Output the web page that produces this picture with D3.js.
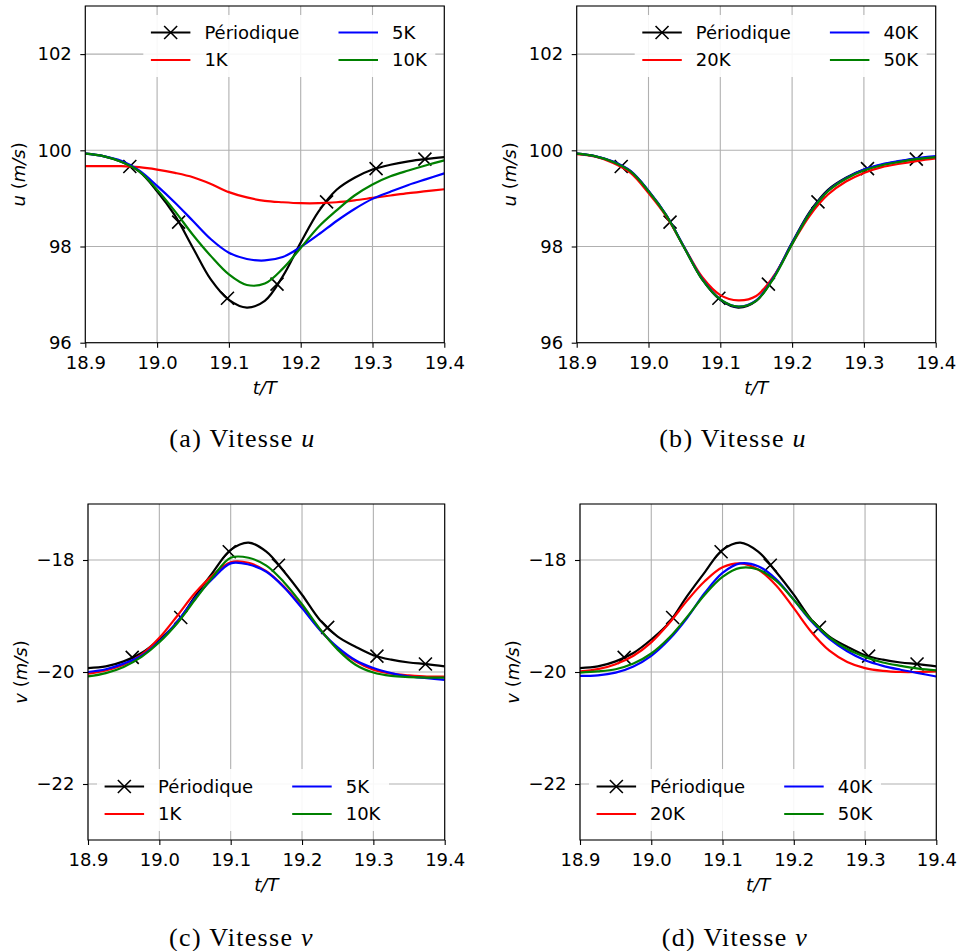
<!DOCTYPE html>
<html><head><meta charset="utf-8">
<script src="https://cdn.jsdelivr.net/npm/d3@7"></script>
<style>body{margin:0;background:#fff} svg{display:block}</style>
</head><body><svg id="chart" width="960" height="951"></svg>
<script>
// ---------- data ----------
const tGrid = [18.9, 18.925, 18.95, 18.975, 19.0, 19.025, 19.05, 19.075, 19.1, 19.125, 19.15,
               19.175, 19.2, 19.225, 19.25, 19.275, 19.3, 19.325, 19.35, 19.375, 19.4];
const markerTimes = [18.962, 19.030, 19.098, 19.167, 19.236, 19.305, 19.373];
const xTicks = [18.9, 19.0, 19.1, 19.2, 19.3, 19.4];
const uTicks = [96, 98, 100, 102];
const vTicks = [-22, -20, -18];

const uPeriodique = [99.93, 99.88, 99.76, 99.56, 99.15, 98.64, 97.97, 97.31, 96.89, 96.73, 96.87, 97.38, 98.08, 98.73, 99.18, 99.43, 99.60, 99.70, 99.77, 99.82, 99.86];
const u1K  = [99.67, 99.67, 99.67, 99.65, 99.60, 99.53, 99.44, 99.30, 99.13, 99.02, 98.95, 98.92, 98.90, 98.90, 98.92, 98.96, 99.01, 99.06, 99.11, 99.15, 99.19];
const u5K  = [99.93, 99.88, 99.78, 99.58, 99.26, 98.91, 98.53, 98.15, 97.87, 97.74, 97.71, 97.78, 97.99, 98.25, 98.53, 98.78, 98.99, 99.14, 99.28, 99.40, 99.52];
const u10K = [99.93, 99.88, 99.76, 99.56, 99.18, 98.73, 98.24, 97.80, 97.42, 97.20, 97.23, 97.54, 97.97, 98.41, 98.75, 99.06, 99.29, 99.46, 99.58, 99.69, 99.79];
const u20K = [99.92, 99.87, 99.74, 99.53, 99.11, 98.62, 97.98, 97.36, 96.99, 96.88, 96.97, 97.40, 98.05, 98.65, 99.08, 99.35, 99.53, 99.65, 99.72, 99.78, 99.83];
const u40K = [99.93, 99.88, 99.77, 99.57, 99.16, 98.65, 97.98, 97.32, 96.90, 96.75, 96.88, 97.38, 98.07, 98.71, 99.16, 99.42, 99.60, 99.71, 99.78, 99.84, 99.88];
const u50K = [99.93, 99.88, 99.76, 99.56, 99.15, 98.64, 97.97, 97.31, 96.90, 96.75, 96.87, 97.36, 98.05, 98.70, 99.15, 99.41, 99.58, 99.69, 99.76, 99.82, 99.86];

const vPeriodique = [-19.93, -19.90, -19.81, -19.66, -19.42, -19.12, -18.65, -18.22, -17.82, -17.69, -17.85, -18.21, -18.62, -19.07, -19.37, -19.55, -19.70, -19.78, -19.83, -19.86, -19.90];
const v1K  = [-20.03, -19.97, -19.87, -19.69, -19.39, -19.00, -18.59, -18.27, -18.04, -18.05, -18.20, -18.48, -18.84, -19.24, -19.58, -19.81, -19.96, -20.03, -20.06, -20.08, -20.08];
const v5K  = [-20.00, -19.95, -19.85, -19.71, -19.45, -19.10, -18.68, -18.33, -18.06, -18.08, -18.21, -18.49, -18.86, -19.25, -19.56, -19.79, -19.93, -20.02, -20.08, -20.11, -20.14];
const v10K = [-20.08, -20.02, -19.91, -19.73, -19.47, -19.13, -18.71, -18.30, -17.96, -17.96, -18.10, -18.40, -18.79, -19.23, -19.60, -19.87, -20.01, -20.07, -20.09, -20.10, -20.10];
const v20K = [-19.99, -19.95, -19.86, -19.71, -19.47, -19.13, -18.73, -18.38, -18.13, -18.06, -18.17, -18.45, -18.86, -19.29, -19.62, -19.82, -19.93, -19.98, -20.00, -20.00, -19.99];
const v40K = [-20.07, -20.06, -20.01, -19.90, -19.71, -19.42, -19.04, -18.59, -18.23, -18.06, -18.11, -18.34, -18.71, -19.10, -19.41, -19.63, -19.79, -19.89, -19.96, -20.02, -20.08];
const v50K = [-20.01, -19.99, -19.95, -19.85, -19.67, -19.39, -19.02, -18.62, -18.30, -18.14, -18.17, -18.37, -18.71, -19.08, -19.38, -19.59, -19.73, -19.83, -19.89, -19.94, -19.97];

// ---------- drawing ----------
const svg = d3.select("#chart");
const FONT = "DejaVu Sans";
const FS = 18;

const panels = [
  {id:"a", left:85.3, right:444.3, top:6, bottom:342.7, yDomain:[96,103], yTicks:uTicks, yVar:"u",
   legend:"ur", cap:"(a) Vitesse ", capVar:"u", capX:242.5, capY:446.5,
   series:[{name:"Périodique", color:"#000000", values:uPeriodique, markers:true},
           {name:"1K", color:"#ff0000", values:u1K},
           {name:"5K", color:"#0000ff", values:u5K},
           {name:"10K", color:"#008000", values:u10K}]},
  {id:"b", left:576.7, right:935.7, top:6, bottom:342.7, yDomain:[96,103], yTicks:uTicks, yVar:"u",
   legend:"ur", cap:"(b) Vitesse ", capVar:"u", capX:733, capY:446.5,
   series:[{name:"Périodique", color:"#000000", values:uPeriodique, markers:true},
           {name:"20K", color:"#ff0000", values:u20K},
           {name:"40K", color:"#0000ff", values:u40K},
           {name:"50K", color:"#008000", values:u50K}]},
  {id:"c", left:88, right:444.7, top:504, bottom:840, yDomain:[-23,-17], yTicks:vTicks, yVar:"v",
   legend:"ll", cap:"(c) Vitesse ", capVar:"v", capX:241.5, capY:946,
   series:[{name:"Périodique", color:"#000000", values:vPeriodique, markers:true},
           {name:"1K", color:"#ff0000", values:v1K},
           {name:"5K", color:"#0000ff", values:v5K},
           {name:"10K", color:"#008000", values:v10K}]},
  {id:"d", left:580, right:936.3, top:504, bottom:840, yDomain:[-23,-17], yTicks:vTicks, yVar:"v",
   legend:"ll", cap:"(d) Vitesse ", capVar:"v", capX:735, capY:946,
   series:[{name:"Périodique", color:"#000000", values:vPeriodique, markers:true},
           {name:"20K", color:"#ff0000", values:v20K},
           {name:"40K", color:"#0000ff", values:v40K},
           {name:"50K", color:"#008000", values:v50K}]}
];

function xMark(g, cx, cy, r, color) {
  g.append("path")
    .attr("d", `M${cx-r},${cy-r}L${cx+r},${cy+r}M${cx-r},${cy+r}L${cx+r},${cy-r}`)
    .attr("stroke", color).attr("stroke-width", 1.6).attr("fill", "none");
}

panels.forEach(p => {
  const x = d3.scaleLinear().domain([18.9, 19.4]).range([p.left, p.right]);
  const y = d3.scaleLinear().domain(p.yDomain).range([p.bottom, p.top]);
  const g = svg.append("g").attr("id", "panel-" + p.id);

  g.append("clipPath").attr("id", "clip-" + p.id)
    .append("rect").attr("x", p.left).attr("y", p.top)
    .attr("width", p.right - p.left).attr("height", p.bottom - p.top);

  // grid
  const grid = g.append("g").attr("stroke", "#b0b0b0").attr("stroke-width", 1.1);
  xTicks.forEach(t => grid.append("line").attr("x1", x(t)).attr("x2", x(t)).attr("y1", p.top).attr("y2", p.bottom));
  p.yTicks.forEach(v => grid.append("line").attr("x1", p.left).attr("x2", p.right).attr("y1", y(v)).attr("y2", y(v)));

  // curves
  const line = d3.line().x((d, i) => x(tGrid[i])).y(d => y(d)).curve(d3.curveCatmullRom.alpha(0.5));
  const plot = g.append("g").attr("clip-path", `url(#clip-${p.id})`);
  p.series.forEach(s => {
    plot.append("path").datum(s.values).attr("d", line)
      .attr("fill", "none").attr("stroke", s.color).attr("stroke-width", 2.2)
      .attr("stroke-linejoin", "round");
    if (s.markers) {
      const interp = d3.scaleLinear().domain(tGrid).range(s.values);
      markerTimes.forEach(t => xMark(plot, x(t), y(interp(t)), 6.5, s.color));
    }
  });

  // legend
  const LW = 292, LH = 62, gap = 9;
  const lx = p.legend === "ur" ? p.right - gap - LW : p.left + gap;
  const ly = p.legend === "ur" ? p.top + gap : p.bottom - gap - LH;
  const leg = g.append("g");
  leg.append("rect").attr("x", lx).attr("y", ly).attr("width", LW).attr("height", LH)
    .attr("rx", 3).attr("fill", "#ffffff").attr("fill-opacity", 0.9);
  p.series.forEach((s, i) => {
    const col = Math.floor(i / 2), row = i % 2;
    const x0 = lx + 7.6 + col * 187.6;
    const yy = ly + 17.5 + row * 27.5;
    leg.append("line").attr("x1", x0).attr("x2", x0 + 39.5).attr("y1", yy).attr("y2", yy)
      .attr("stroke", s.color).attr("stroke-width", 2.2);
    if (s.markers) xMark(leg, x0 + 19.75, yy, 6.5, s.color);
    leg.append("text").attr("x", x0 + 53.5).attr("y", yy).attr("dy", "0.35em")
      .attr("font-family", FONT).attr("font-size", FS).attr("fill", "#000").text(s.name);
  });

  // spines
  g.append("rect").attr("x", p.left).attr("y", p.top)
    .attr("width", p.right - p.left).attr("height", p.bottom - p.top)
    .attr("fill", "none").attr("stroke", "#000").attr("stroke-width", 1.1);

  // axes
  const ax = g.append("g").attr("transform", `translate(0,${p.bottom})`)
    .call(d3.axisBottom(x).tickValues(xTicks).tickFormat(d3.format(".1f")).tickSize(5).tickPadding(8.5).tickSizeOuter(0));
  const ay = g.append("g").attr("transform", `translate(${p.left},0)`)
    .call(d3.axisLeft(y).tickValues(p.yTicks).tickFormat(d3.format("d")).tickSize(5).tickPadding(8.5).tickSizeOuter(0));
  [ax, ay].forEach(a => {
    a.select(".domain").remove();
    a.selectAll(".tick line").attr("stroke", "#000").attr("stroke-width", 1.1);
    a.selectAll(".tick text").attr("font-family", FONT).attr("font-size", FS).attr("fill", "#000");
  });

  // axis labels
  const xl = g.append("text").attr("x", (p.left + p.right) / 2).attr("y", p.bottom + 44.5).attr("dy", "0.35em")
    .attr("text-anchor", "middle").attr("font-family", FONT).attr("font-size", FS).attr("fill", "#000");
  xl.append("tspan").attr("font-style", "italic").text("t/T");

  const yl = g.append("text").attr("transform", `translate(${p.left - 67},${(p.top + p.bottom) / 2}) rotate(-90)`)
    .attr("dy", "0.35em").attr("text-anchor", "middle").attr("font-family", FONT).attr("font-size", FS).attr("fill", "#000");
  yl.append("tspan").attr("font-style", "italic").text(p.yVar);
  yl.append("tspan").text(" (");
  yl.append("tspan").attr("font-style", "italic").text("m/s");
  yl.append("tspan").text(")");

  // caption
  const cap = g.append("text").attr("x", p.capX).attr("y", p.capY).attr("text-anchor", "middle")
    .attr("font-family", "Liberation Serif").attr("font-size", 26).attr("letter-spacing", 1.3).attr("fill", "#000");
  cap.append("tspan").text(p.cap);
  cap.append("tspan").attr("font-style", "italic").text(p.capVar);
});
</script></body></html>
